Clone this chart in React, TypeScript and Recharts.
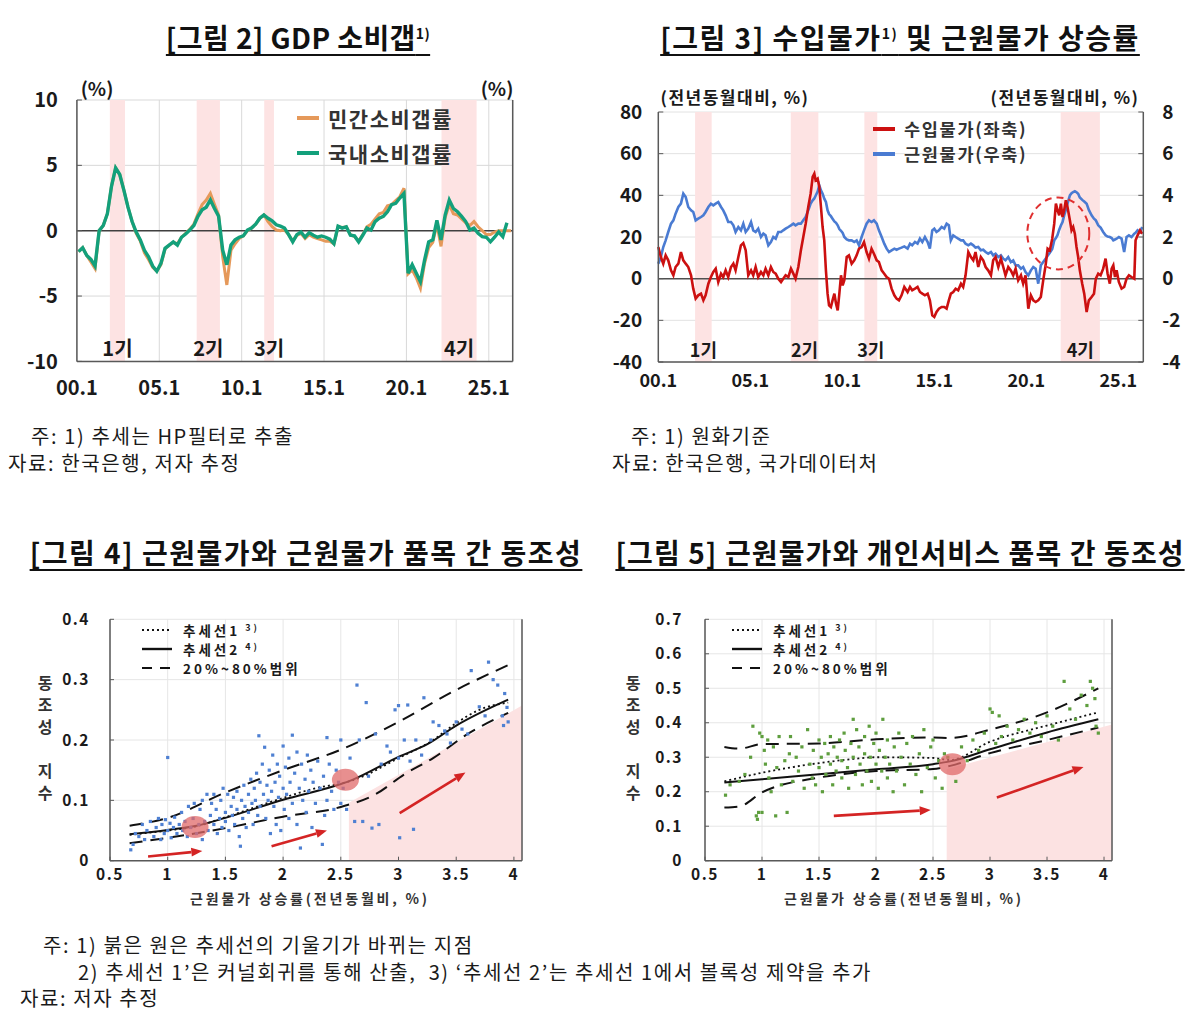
// 소비갭·물가 상승률·동조성 4개 패널
import {
  LineChart,
  ComposedChart,
  Line,
  Scatter,
  XAxis,
  YAxis,
  CartesianGrid,
  ReferenceArea,
  ReferenceLine,
  ReferenceDot,
} from "recharts";

const FONT = '"Noto Sans CJK KR", "Noto Sans", sans-serif';
const INK = "#1a1a1a";
const AXIS = "#595959";

// [그림 2] 분기별 소비갭률 (2000.1분기~)
const privateGap = [
  -1.6, -1.3, -1.9, -2.4, -2.9, 0.0, 0.4, 1.3, 3.4, 4.8,
  4.3, 3.1, 1.8, 0.7, -0.2, -0.8, -1.7, -2.2, -2.8, -3.1,
  -2.6, -1.4, -1.1, -0.9, -1.0, -0.5, -0.2, 0.1, 0.5, 1.3,
  2.0, 2.35, 2.85, 2.0, 1.2, -2.0, -4.15, -1.5, -1.0, -0.6,
  -0.4, 0.0, 0.2, 0.5, 0.95, 1.2, 0.7, 0.3, 0.05, 0.0,
  0.05, -0.3, -0.8, -0.35, -0.2, -0.6, -0.3, -0.5, -0.6, -0.7,
  -0.8, -0.8, -1.0, 0.3, 0.25, 0.3, -0.3, -0.45, -0.8, -0.3,
  0.3, 0.5, 0.9, 1.3, 1.4, 1.9, 2.0, 2.3, 2.6, 3.25,
  -3.3, -3.0, -3.6, -4.4, -2.5, -1.3, -0.9, 0.5, -1.2, 1.0,
  2.0, 1.3, 1.2, 0.9, 0.6, 0.4, 0.7, 0.3, 0.0, -0.3,
  -0.3, -0.1, 0.0, 0.0, 0.0, 0.0,
];
const domesticGap = [
  -1.6, -1.3, -1.9, -2.2, -2.7, 0.0, 0.4, 1.3, 3.4, 4.8,
  4.3, 3.1, 1.8, 0.7, -0.1, -0.7, -1.5, -2.0, -2.7, -3.1,
  -2.5, -1.35, -1.1, -0.85, -1.1, -0.5, -0.25, 0.05, 0.4, 1.1,
  1.6, 1.8, 2.35, 1.7, 1.1, -1.5, -2.6, -1.1, -0.7, -0.5,
  -0.4, 0.05, 0.2, 0.5, 0.95, 1.2, 0.95, 0.75, 0.45, 0.35,
  0.2, -0.3, -0.85, -0.3, -0.1, -0.5, -0.15, -0.35, -0.5, -0.4,
  -0.5, -0.65, -1.0, 0.35, 0.2, 0.3, -0.35, -0.4, -0.85, -0.35,
  0.2, 0.05, 0.7, 0.95, 1.1, 1.45, 2.0, 2.1, 2.5, 2.85,
  -3.25, -2.6, -3.25, -3.9, -2.25, -0.85, -0.7, 0.8, -0.7, 1.2,
  2.35, 1.7, 1.45, 1.1, 0.7, 0.05, 0.2, -0.2, -0.45, -0.5,
  -0.85, -0.5, -0.1, -0.45, 0.6,
];
const gapBands = [
  { label: "1기", from: 2002.0, to: 2002.92 },
  { label: "2기", from: 2007.27, to: 2008.68 },
  { label: "3기", from: 2011.37, to: 2011.96 },
  { label: "4기", from: 2022.13, to: 2024.26 },
];

// [그림 3] 수입물가(좌축, %) · 근원물가(우축, %) 전년동월대비
const priceDates = [
  2000.0, 2000.14, 2000.27, 2000.4, 2000.54, 2000.69, 2000.82, 2000.94, 2001.09, 2001.23,
  2001.36, 2001.49, 2001.63, 2001.78, 2001.9, 2002.03, 2002.17, 2002.32, 2002.45, 2002.57,
  2002.72, 2002.86, 2002.99, 2003.12, 2003.26, 2003.41, 2003.53, 2003.66, 2003.8, 2003.95,
  2004.08, 2004.2, 2004.35, 2004.49, 2004.62, 2004.75, 2004.89, 2005.04, 2005.16, 2005.29,
  2005.43, 2005.58, 2005.71, 2005.83, 2005.98, 2006.12, 2006.25, 2006.38, 2006.52, 2006.67,
  2006.79, 2006.92, 2007.07, 2007.21, 2007.34, 2007.46, 2007.61, 2007.75, 2007.88, 2008.01,
  2008.15, 2008.28, 2008.39, 2008.48, 2008.55, 2008.66, 2008.75, 2008.84, 2008.93, 2009.02,
  2009.11, 2009.2, 2009.28, 2009.38, 2009.47, 2009.57, 2009.66, 2009.75, 2009.84, 2009.93,
  2010.02, 2010.11, 2010.24, 2010.36, 2010.51, 2010.65, 2010.78, 2010.91, 2011.05, 2011.18,
  2011.32, 2011.45, 2011.59, 2011.72, 2011.87, 2011.99, 2012.14, 2012.28, 2012.41, 2012.54,
  2012.68, 2012.83, 2012.95, 2013.08, 2013.22, 2013.37,
  2013.55, 2013.68, 2013.8, 2013.95, 2014.09, 2014.22, 2014.35, 2014.49, 2014.64, 2014.76,
  2014.89, 2015.0, 2015.12, 2015.25, 2015.4, 2015.54, 2015.67, 2015.79, 2015.9, 2016.03,
  2016.16, 2016.3, 2016.45, 2016.57, 2016.7, 2016.85, 2016.99, 2017.12, 2017.24, 2017.39,
  2017.53, 2017.66, 2017.79, 2017.93, 2018.08, 2018.2, 2018.33, 2018.48, 2018.62, 2018.75,
  2018.87, 2019.02, 2019.16, 2019.29, 2019.42, 2019.56, 2019.71, 2019.83, 2019.96, 2020.11,
  2020.25, 2020.38, 2020.51, 2020.65, 2020.79, 2020.92, 2021.05, 2021.16, 2021.28, 2021.41,
  2021.52, 2021.61, 2021.7, 2021.79, 2021.88, 2021.97, 2022.06, 2022.15, 2022.24, 2022.37,
  2022.46, 2022.55, 2022.64, 2022.73, 2022.82, 2022.91, 2023.04, 2023.15, 2023.28, 2023.4,
  2023.55, 2023.68, 2023.78, 2023.91, 2024.04, 2024.18, 2024.31, 2024.42, 2024.54, 2024.64,
  2024.73, 2024.82, 2024.91, 2025.03, 2025.18, 2025.32, 2025.45, 2025.58, 2025.72, 2025.87,
  2025.94, 2026.05, 2026.18, 2026.3,
];
const importPrice = [
  15.2, 10.4, 7.2, 11.2, 8.8, 4, 1.6, 5.6, 7.2, 12.8,
  8.8, 7.2, 5.6, 1.6, -4.8, -9.6, -8, -7.2, -10.4, -8,
  -2.4, 0.8, 3.2, 4.8, -1.6, 2.4, 0.8, 4, 0.8, 5.6,
  7.2, 4, 10.4, 16, 17.1, 13.6, 1.6, 4, 1.6, 5.6,
  0.8, 3.2, 1.6, 4.8, 1.6, 5.6, 3.2, 2.4, 0, -1.6,
  0, 1.6, 0.8, 4.8, 2.4, 0, 5.6, 13.6, 20, 26.4,
  34.4, 40.8, 48.8, 50.4, 47.2, 48, 44, 34.4, 24.8, 18.4,
  4, -7.2, -12.8, -13.6, -10.4, -7.2, -12, -15.2, -7.2, 1.6,
  -3.2, -0.8, 10.4, 11.2, 7.2, 8.8, 11.2, 14.4, 15.2, 17.6,
  12.8, 9.6, 14.4, 12, 8.8, 8, 4, 2.4, 0.8, 0,
  -4.8, -8, -9.6, -10.4, -8, -4,
  -6.4, -4, -5.6, -4.8, -4, -6.4, -7.2, -8, -7.2, -10.4,
  -17.6, -18.4, -16, -14.4, -13.6, -13.6, -14.4, -10.4, -7.2, -6.4,
  -4.8, -5.6, -2.4, -4, 1.6, 12.8, 10.4, 8.8, 12.8, 5.6,
  10.4, 8.8, 5.6, 4, 1.6, 8.8, 10.4, 5.6, 9.6, 5.6,
  1.6, 5.6, 4, 1.6, 4.8, -0.8, 1.6, -2.4, 1.6, -14.4,
  -8, -10.4, -11.2, -10.4, -8.8, -0.8, 6.4, 14.4, 13.6, 19.2,
  26.4, 36, 32.8, 30.4, 36, 29.6, 32.8, 37.6, 34.4, 28,
  23.2, 24.8, 21.6, 15.2, 10.4, 4, -2.4, -7.2, -16, -10.4,
  -8.8, -7.2, 0, 2.4, 1.6, 4.8, 9.6, 2.4, -2.4, 4.8,
  6.4, 0.8, 4, -1.6, -4.8, -4, 0, 1.6, 0.8, 0,
  18.4, 20.8, 23.2, 21.6,
];
const corePrice = [
  0.72, 1.04, 1.52, 1.84, 2.24, 2.64, 2.8, 3.12, 3.44, 3.6,
  4.08, 3.92, 3.44, 3.28, 3.2, 2.8, 2.88, 2.96, 3.04, 3.2,
  3.44, 3.6, 3.52, 3.6, 3.68, 3.44, 3.28, 3.04, 2.72, 2.72,
  2.56, 2.24, 2.48, 2.32, 2.64, 2.24, 2.4, 2.72, 2.32, 2.24,
  2.4, 2.0, 2.16, 2.08, 1.6, 1.76, 2.0, 1.92, 2.24, 2.24,
  2.32, 2.4, 2.48, 2.56, 2.64, 2.56, 2.64, 2.64, 2.8, 2.96,
  3.28, 3.6, 3.76, 3.85, 3.98, 4.18, 4.48, 4.24, 4.08, 3.84,
  3.68, 3.28, 3.1, 3.0, 2.88, 2.75, 2.68, 2.56, 2.38, 2.3,
  2.2, 2.0, 1.88, 1.84, 1.84, 1.76, 1.84, 1.6, 2.0, 2.32,
  2.64, 2.8, 2.72, 2.8, 2.64, 2.32, 2.0, 1.68, 1.44, 1.28,
  1.36, 1.44, 1.39, 1.44, 1.49, 1.55,
  1.44, 1.68, 1.6, 1.76, 1.68, 1.92, 1.76, 2.0, 1.76, 1.44,
  2.32, 2.4, 2.24, 2.32, 2.48, 2.4, 2.64, 2.56, 1.84, 2.08,
  2.0, 1.92, 1.84, 1.84, 1.68, 1.6, 1.68, 1.6, 1.49, 1.52,
  1.36, 1.39, 1.28, 1.2, 1.28, 1.12, 1.2, 1.04, 1.12, 0.96,
  0.88, 1.04, 0.8, 0.88, 0.64, 0.64, 0.48, 0.56, 0.32, 0.16,
  0.4, 0.56, 0.48, -0.24, 0.64, 0.8, 0.96, 1.1, 1.25, 1.42,
  1.84, 1.95, 2.1, 2.35, 2.55, 2.72, 3.04, 3.3, 3.6, 4.0,
  4.1, 4.16, 4.2, 4.15, 4.08, 3.9, 3.78, 3.7, 3.6, 3.3,
  3.04, 2.88, 2.8, 2.56, 2.45, 2.24, 2.08, 2.02, 2.0, 1.95,
  1.84, 1.88, 1.92, 2.0, 1.92, 1.28, 2.0, 2.08, 2.0, 2.16,
  2.2, 2.32, 2.24, 2.48,
];
const priceBands = [
  { label: "1기", from: 2002.0, to: 2002.9 },
  { label: "2기", from: 2007.2, to: 2008.7 },
  { label: "3기", from: 2011.2, to: 2011.9 },
  { label: "4기", from: 2021.87, to: 2024.0 },
];
const yearTicks = [2000, 2005, 2010, 2015, 2020, 2025];

// [그림 4] 근원물가 품목 동조성 (x: 근원물가 상승률, y: 동조성 지수)
const corePoints = [
  [0.68, 0.018], [0.7, 0.027], [0.72, 0.045], [0.75, 0.04], [0.78, 0.06], [0.8, 0.035], [0.82, 0.05], [0.85, 0.065], [0.88, 0.04], [0.9, 0.055],
  [0.92, 0.07], [0.94, 0.035], [0.95, 0.06], [0.97, 0.045], [0.98, 0.068], [1.0, 0.171], [1.0, 0.05], [1.02, 0.062], [1.03, 0.038], [1.05, 0.055], [1.06, 0.072], [1.08, 0.045], [1.1, 0.06],
  [1.12, 0.08], [1.13, 0.05], [1.15, 0.065], [1.17, 0.04], [1.18, 0.09], [1.2, 0.055], [1.22, 0.07], [1.23, 0.095], [1.25, 0.045], [1.27, 0.06], [1.28, 0.085], [1.3, 0.1], [1.3, 0.035],
  [1.32, 0.065], [1.34, 0.11], [1.35, 0.05], [1.37, 0.075], [1.38, 0.095], [1.4, 0.06], [1.4, 0.11], [1.42, 0.085], [1.43, 0.045], [1.45, 0.07], [1.46, 0.1], [1.47, 0.055], [1.48, 0.12], [1.5, 0.08], [1.5, 0.065],
  [1.52, 0.11], [1.53, 0.05], [1.55, 0.09], [1.56, 0.075], [1.57, 0.105], [1.58, 0.06], [1.6, 0.115], [1.6, 0.085], [1.62, 0.04], [1.63, 0.024], [1.64, 0.1], [1.65, 0.07], [1.66, 0.125], [1.67, 0.09], [1.68, 0.055], [1.7, 0.11], [1.7, 0.08],
  [1.72, 0.135], [1.73, 0.095], [1.74, 0.06], [1.75, 0.12], [1.76, 0.1], [1.77, 0.145], [1.78, 0.075], [1.79, 0.207], [1.8, 0.13], [1.8, 0.09], [1.82, 0.16], [1.83, 0.11], [1.84, 0.188], [1.85, 0.07], [1.86, 0.125], [1.87, 0.1], [1.88, 0.15], [1.89, 0.045], [1.9, 0.115],
  [1.91, 0.175], [1.92, 0.09], [1.93, 0.13], [1.94, 0.06], [1.95, 0.16], [1.96, 0.105], [1.97, 0.14], [1.98, 0.05], [2.0, 0.19], [2.0, 0.12], [2.01, 0.085], [2.02, 0.155], [2.03, 0.11], [2.05, 0.17], [2.05, 0.07], [2.06, 0.13], [2.08, 0.208], [2.08, 0.095], [2.1, 0.145],
  [2.12, 0.18], [2.12, 0.06], [2.14, 0.12], [2.15, 0.021], [2.16, 0.16], [2.17, 0.1], [2.19, 0.135], [2.2, 0.08], [2.21, 0.175], [2.22, 0.115], [2.24, 0.15], [2.25, 0.055], [2.26, 0.13], [2.28, 0.095], [2.3, 0.165],
  [2.32, 0.12], [2.34, 0.027], [2.35, 0.14], [2.36, 0.075], [2.38, 0.204], [2.38, 0.1], [2.4, 0.16], [2.42, 0.115], [2.44, 0.085], [2.46, 0.15], [2.48, 0.13], [2.5, 0.2], [2.5, 0.095], [2.52, 0.12], [2.55, 0.085], [2.58, 0.17],
  [2.62, 0.065], [2.64, 0.291], [2.66, 0.2], [2.69, 0.065], [2.72, 0.262], [2.74, 0.14], [2.77, 0.054], [2.8, 0.21], [2.83, 0.06], [2.85, 0.16], [2.9, 0.19], [2.93, 0.18], [2.97, 0.25], [3.0, 0.257], [3.01, 0.038], [3.0, 0.17],
  [3.05, 0.2], [3.08, 0.258], [3.1, 0.165], [3.13, 0.052], [3.15, 0.2], [3.2, 0.175], [3.22, 0.27], [3.28, 0.2], [3.3, 0.23], [3.35, 0.224], [3.4, 0.215], [3.42, 0.21], [3.45, 0.195], [3.5, 0.23],
  [3.55, 0.218], [3.6, 0.21], [3.63, 0.315], [3.7, 0.255], [3.75, 0.24], [3.78, 0.329], [3.82, 0.3], [3.86, 0.291], [3.9, 0.24], [3.91, 0.224], [3.92, 0.277], [3.94, 0.254], [3.95, 0.23],
];
const coreTrend1 = [[0.67, 0.043], [1.0, 0.05], [1.25, 0.057], [1.5, 0.072], [2.0, 0.104], [2.3, 0.121], [2.5, 0.128], [2.6, 0.133], [3.0, 0.17], [3.3, 0.2], [3.5, 0.228], [3.7, 0.25], [3.95, 0.262]];
const coreTrend2 = [[0.67, 0.044], [1.0, 0.051], [1.25, 0.058], [1.5, 0.071], [2.0, 0.101], [2.5, 0.127], [2.6, 0.134], [3.0, 0.172], [3.25, 0.193], [3.5, 0.224], [3.95, 0.267]];
const coreHigh = [[0.67, 0.058], [1.0, 0.071], [1.5, 0.113], [2.0, 0.15], [2.5, 0.184], [3.0, 0.23], [3.5, 0.283], [3.95, 0.324]];
const coreLow = [[0.67, 0.029], [1.0, 0.038], [1.5, 0.054], [2.0, 0.073], [2.5, 0.089], [2.8, 0.11], [3.05, 0.143], [3.3, 0.17], [3.6, 0.21], [3.95, 0.245]];
const coreShade = { from: 2.57, to: 4.07, low: 0.096, high: 0.257 };
const coreArrows = [[0.83, 0.007, 1.3, 0.016], [1.9, 0.024, 2.38, 0.05], [3.01, 0.079, 3.58, 0.146]];
const coreKinks = [[1.237, 0.056], [2.54, 0.134]];

// [그림 5] 개인서비스 품목 동조성
const servicePoints = [
  [0.68, 0.19], [0.72, 0.22], [0.8, 0.23], [0.85, 0.25], [0.9, 0.3], [0.92, 0.39], [0.95, 0.13], [0.96, 0.12], [0.97, 0.14], [0.98, 0.37],
  [1.0, 0.36], [1.0, 0.14], [1.02, 0.32], [1.03, 0.28], [1.05, 0.35], [1.06, 0.24], [1.08, 0.2], [1.1, 0.33], [1.12, 0.13], [1.13, 0.27],
  [1.15, 0.36], [1.17, 0.22], [1.2, 0.29], [1.22, 0.14], [1.24, 0.31], [1.25, 0.36], [1.27, 0.23], [1.3, 0.3], [1.32, 0.26], [1.35, 0.33],
  [1.37, 0.21], [1.4, 0.38], [1.42, 0.28], [1.44, 0.24], [1.45, 0.32], [1.47, 0.22], [1.5, 0.35], [1.5, 0.27], [1.52, 0.3], [1.53, 0.2],
  [1.55, 0.34], [1.56, 0.25], [1.58, 0.31], [1.6, 0.28], [1.6, 0.36], [1.62, 0.22], [1.63, 0.33], [1.65, 0.26], [1.66, 0.3], [1.68, 0.35],
  [1.7, 0.24], [1.7, 0.29], [1.72, 0.37], [1.73, 0.32], [1.75, 0.27], [1.76, 0.21], [1.78, 0.34], [1.8, 0.41], [1.8, 0.3], [1.82, 0.25],
  [1.83, 0.38], [1.85, 0.33], [1.86, 0.28], [1.88, 0.22], [1.9, 0.36], [1.9, 0.31], [1.92, 0.26], [1.94, 0.39], [1.95, 0.3], [1.96, 0.23],
  [1.98, 0.34], [2.0, 0.28], [2.0, 0.37], [2.02, 0.21], [2.03, 0.32], [2.05, 0.26], [2.06, 0.41], [2.08, 0.3], [2.1, 0.24], [2.1, 0.35],
  [2.12, 0.28], [2.15, 0.2], [2.16, 0.33], [2.18, 0.26], [2.2, 0.37], [2.22, 0.3], [2.25, 0.22], [2.27, 0.34], [2.3, 0.28], [2.32, 0.36],
  [2.35, 0.25], [2.38, 0.31], [2.4, 0.2], [2.42, 0.38], [2.45, 0.27], [2.48, 0.33], [2.5, 0.35], [2.52, 0.24], [2.55, 0.29], [2.58, 0.21],
  [2.6, 0.31], [2.63, 0.3], [2.7, 0.23], [2.75, 0.33], [2.8, 0.29], [2.85, 0.35], [2.9, 0.32], [2.95, 0.37], [3.0, 0.44], [3.02, 0.43],
  [3.05, 0.34], [3.08, 0.42], [3.1, 0.36], [3.15, 0.39], [3.2, 0.35], [3.25, 0.38], [3.3, 0.41], [3.35, 0.37], [3.4, 0.4], [3.45, 0.36],
  [3.5, 0.42], [3.55, 0.39], [3.6, 0.35], [3.65, 0.52], [3.7, 0.44], [3.75, 0.41], [3.8, 0.48], [3.85, 0.45], [3.88, 0.52], [3.9, 0.5],
  [3.92, 0.47], [3.93, 0.39], [3.95, 0.37],
];
const serviceTrend1 = [[0.67, 0.23], [1.0, 0.255], [1.5, 0.283], [1.8, 0.295], [2.0, 0.3], [2.5, 0.298], [2.65, 0.292], [3.0, 0.345], [3.5, 0.392], [3.95, 0.43]];
const serviceTrend2 = [[0.67, 0.227], [1.0, 0.236], [1.5, 0.251], [2.0, 0.265], [2.5, 0.28], [2.65, 0.288], [3.0, 0.323], [3.5, 0.372], [3.95, 0.41]];
const serviceHigh = [[0.67, 0.33], [0.8, 0.325], [1.0, 0.338], [1.5, 0.34], [2.0, 0.352], [2.5, 0.357], [2.65, 0.356], [3.0, 0.38], [3.5, 0.43], [3.95, 0.5]];
const serviceLow = [[0.67, 0.154], [0.8, 0.157], [1.0, 0.198], [1.5, 0.241], [2.0, 0.26], [2.5, 0.266], [2.65, 0.275], [3.0, 0.312], [3.5, 0.35], [3.95, 0.386]];
const serviceShade = { from: 2.62, to: 4.07, low: 0.265, high: 0.395 };
const serviceArrows = [[1.63, 0.13, 2.48, 0.147], [3.06, 0.183, 3.82, 0.272]];
const serviceKinks = [[2.67, 0.28]];

const inflationTicks = [0.5, 1, 1.5, 2, 2.5, 3, 3.5, 4];

const gapData = privateGap.map((v, i) => ({ x: 2000.1 + i * 0.25, private: v, domestic: domesticGap[i] }));
const priceData = priceDates.map((x, i) => ({ x, importPrice: importPrice[i], corePrice: corePrice[i] }));
const xy = (rows: number[][]) => rows.map(([x, y]) => ({ x, y }));
const yearLabel = (v: number) => `${String(v - 2000).padStart(2, "0")}.1`;

function Txt({ x, y, size, weight = 400, spacing = 0, center = false, color = INK, children }: any) {
  return (
    <div
      style={{
        position: "absolute",
        left: x,
        top: y - size * 0.55,
        fontSize: size,
        fontWeight: weight,
        lineHeight: 1.1,
        letterSpacing: spacing,
        whiteSpace: "pre",
        color,
        transform: center ? "translateX(-50%)" : undefined,
      }}
    >
      {children}
    </div>
  );
}

function Title({ cx, y, spacing = 1.3, children }: any) {
  return (
    <div
      style={{
        position: "absolute",
        left: cx,
        top: y - 17,
        transform: "translateX(-50%)",
        fontSize: 28,
        fontWeight: 700,
        lineHeight: 1.2,
        letterSpacing: spacing,
        whiteSpace: "pre",
        color: "#111",
        textDecoration: "underline",
        textDecorationThickness: "2px",
        textUnderlineOffset: "5px",
      }}
    >
      {children}
    </div>
  );
}

const sup = (s: string, size = 14) => (
  <span style={{ fontSize: size, verticalAlign: "super", lineHeight: 0 }}>{s}</span>
);

function GapChart() {
  const tick = { fill: INK, fontSize: 20, fontWeight: 700 };
  return (
    <LineChart width={600} height={330} data={gapData} margin={{ top: 20, right: 17.3, bottom: 8.6, left: 16.9 }}>
      <CartesianGrid stroke="#d9d9d9" />
      {gapBands.map((b) => (
        <ReferenceArea
          key={b.label}
          x1={b.from}
          x2={b.to}
          fill="#FDE3E3"
          fillOpacity={1}
          stroke="none"
          label={{ value: b.label, position: "insideBottom", offset: 5, fill: INK, fontSize: 20, fontWeight: 700 }}
        />
      ))}
      <XAxis
        dataKey="x"
        type="number"
        domain={[2000, 2026.45]}
        ticks={yearTicks}
        interval={0}
        tickFormatter={yearLabel}
        height={40}
        tickSize={0}
        tickMargin={19}
        axisLine={{ stroke: AXIS, strokeWidth: 1.5 }}
        tick={tick}
      />
      <YAxis
        domain={[-10, 10]}
        ticks={[-10, -5, 0, 5, 10]}
        interval={0}
        width={60}
        tickSize={-5}
        tickMargin={24}
        axisLine={{ stroke: AXIS, strokeWidth: 1.5 }}
        tickLine={{ stroke: AXIS }}
        tick={tick}
      />
      <YAxis
        yAxisId="r"
        orientation="right"
        domain={[-10, 10]}
        ticks={[-10, -5, 0, 5, 10]}
        interval={0}
        width={70}
        tickSize={-5}
        tickMargin={27}
        axisLine={{ stroke: AXIS, strokeWidth: 1.5 }}
        tickLine={{ stroke: AXIS }}
        tick={{ ...tick, textAnchor: "start" }}
      />
      <ReferenceLine y={0} stroke="#404040" strokeWidth={1.5} />
      <Line dataKey="private" stroke="#E5995A" strokeWidth={3} dot={false} isAnimationActive={false} />
      <Line dataKey="domestic" stroke="#13A07B" strokeWidth={3.4} dot={false} isAnimationActive={false} />
    </LineChart>
  );
}

const ellipseMark = (p: any) => (
  <ellipse cx={p.cx} cy={p.cy} rx={31} ry={36} fill="none" stroke="#E03030" strokeWidth={2} strokeDasharray="7 5" />
);

function PriceChart() {
  const tick = { fill: INK, fontSize: 19, fontWeight: 700 };
  return (
    <LineChart width={600} height={330} data={priceData} margin={{ top: 32, right: 11.7, bottom: 13, left: 13.3 }}>
      <CartesianGrid vertical={false} stroke="#e2e2e2" />
      {priceBands.map((b) => (
        <ReferenceArea
          key={b.label}
          x1={b.from}
          x2={b.to}
          fill="#FDE3E3"
          fillOpacity={1}
          stroke="none"
          label={{ value: b.label, position: "insideBottom", offset: 5, fill: INK, fontSize: 18, fontWeight: 700 }}
        />
      ))}
      <XAxis
        dataKey="x"
        type="number"
        domain={[2000, 2026.36]}
        ticks={yearTicks}
        interval={0}
        tickFormatter={yearLabel}
        height={35}
        tickSize={0}
        tickMargin={12}
        axisLine={{ stroke: AXIS, strokeWidth: 1.5 }}
        tick={{ ...tick, fontSize: 18 }}
      />
      <YAxis
        domain={[-40, 80]}
        ticks={[-40, -20, 0, 20, 40, 60, 80]}
        interval={0}
        width={45}
        tickSize={-5}
        tickMargin={21}
        axisLine={{ stroke: AXIS, strokeWidth: 1.5 }}
        tickLine={{ stroke: AXIS }}
        tick={tick}
      />
      <YAxis
        yAxisId="r"
        orientation="right"
        domain={[-4, 8]}
        ticks={[-4, -2, 0, 2, 4, 6, 8]}
        interval={0}
        width={45}
        tickSize={-5}
        tickMargin={24}
        axisLine={{ stroke: AXIS, strokeWidth: 1.5 }}
        tickLine={{ stroke: AXIS }}
        tick={tick}
      />
      <ReferenceLine y={0} stroke="#505050" strokeWidth={1.5} />
      <Line yAxisId="r" dataKey="corePrice" stroke="#4A7BD2" strokeWidth={2.6} dot={false} isAnimationActive={false} />
      <Line dataKey="importPrice" stroke="#CC1010" strokeWidth={2.6} dot={false} isAnimationActive={false} />
      <ReferenceDot x={2021.74} y={21.7} r={30} shape={ellipseMark} />
    </LineChart>
  );
}

const arrowShape = (p: any) => {
  const { x1, y1, x2, y2 } = p;
  const a = Math.atan2(y2 - y1, x2 - x1);
  const bx = x2 - 11 * Math.cos(a);
  const by = y2 - 11 * Math.sin(a);
  const w = 4.5;
  const head = `${x2},${y2} ${bx - w * Math.sin(a)},${by + w * Math.cos(a)} ${bx + w * Math.sin(a)},${by - w * Math.cos(a)}`;
  return (
    <g>
      <line x1={x1} y1={y1} x2={bx} y2={by} stroke="#D42424" strokeWidth={2.6} />
      <polygon points={head} fill="#D42424" />
    </g>
  );
};

const kinkMark = (p: any) => <ellipse cx={p.cx} cy={p.cy} rx={13.5} ry={11} fill="#E06A6A" fillOpacity={0.75} />;

function CoMovementChart({ points, color, yMax, yTicks, trend1, trend2, high, low, shade, arrows, kinks, margin, leftGap, rightGap }: any) {
  const tick = { fill: INK, fontSize: 15.5, fontWeight: 700, letterSpacing: 1.5 };
  const ratio = shade.low / shade.high;
  const shadeShape = (p: any) => (
    <polygon
      points={`${p.x},${p.y + p.height} ${p.x},${p.y + p.height * (1 - ratio)} ${p.x + p.width},${p.y} ${p.x + p.width},${p.y + p.height}`}
      fill="#FCE2E2"
    />
  );
  const square = (p: any) => <rect x={p.cx - 1.6} y={p.cy - 1.6} width={3.2} height={3.2} fill={color} />;
  const lineProps = { dataKey: "y", type: "monotone" as const, dot: false, isAnimationActive: false, stroke: "#111" };
  return (
    <ComposedChart width={600} height={310} margin={margin}>
      <CartesianGrid stroke="#e6e6e6" />
      <ReferenceArea x1={shade.from} x2={shade.to} y1={0} y2={shade.high} shape={shadeShape} />
      <XAxis
        dataKey="x"
        type="number"
        domain={[0.5, 4.07]}
        ticks={inflationTicks}
        interval={0}
        height={30}
        tickSize={-4}
        tickMargin={12}
        axisLine={{ stroke: AXIS, strokeWidth: 1.5 }}
        tickLine={{ stroke: AXIS }}
        tick={tick}
      />
      <YAxis
        dataKey="y"
        type="number"
        domain={[0, yMax]}
        ticks={yTicks}
        interval={0}
        width={40}
        tickSize={-4}
        tickMargin={leftGap}
        axisLine={{ stroke: AXIS, strokeWidth: 1.5 }}
        tickLine={{ stroke: AXIS }}
        tick={tick}
      />
      <YAxis
        yAxisId="r"
        orientation="right"
        type="number"
        domain={[0, yMax]}
        ticks={yTicks}
        interval={0}
        width={45}
        tickSize={-4}
        tickMargin={rightGap}
        axisLine={{ stroke: AXIS, strokeWidth: 1.5 }}
        tickLine={{ stroke: AXIS }}
        tick={tick}
      />
      <Scatter data={xy(points)} shape={square} isAnimationActive={false} />
      <Line data={xy(high)} {...lineProps} strokeWidth={2} strokeDasharray="13 8" />
      <Line data={xy(low)} {...lineProps} strokeWidth={2} strokeDasharray="13 8" />
      <Line data={xy(trend1)} {...lineProps} strokeWidth={1.8} strokeDasharray="2 3" />
      <Line data={xy(trend2)} {...lineProps} strokeWidth={2} />
      {arrows.map((a: number[], i: number) => (
        <ReferenceLine
          key={i}
          segment={[{ x: a[0], y: a[1] }, { x: a[2], y: a[3] }]}
          shape={arrowShape}
        />
      ))}
      {kinks.map((k: number[], i: number) => (
        <ReferenceDot key={i} x={k[0]} y={k[1]} r={12} shape={kinkMark} />
      ))}
    </ComposedChart>
  );
}

function TrendLegend({ x, y }: any) {
  const rows = [
    { dash: "2 3", width: 1.8, label: <>추세선1{sup(" 3)", 9)}</> },
    { dash: undefined, width: 2.4, label: <>추세선2{sup(" 4)", 9)}</> },
    { dash: "10 8", width: 2.2, label: <>20%~80%범위</> },
  ];
  const offsets = [0, 19, 38];
  return (
    <>
      {rows.map((r, i) => (
        <div key={i} style={{ position: "absolute", left: x, top: y + offsets[i] - 7, height: 14, display: "flex", alignItems: "center" }}>
          <svg width={32} height={6}>
            <line x1={1} y1={3} x2={31} y2={3} stroke="#111" strokeWidth={r.width} strokeDasharray={r.dash} />
          </svg>
          <span style={{ marginLeft: 10, fontSize: 13.5, lineHeight: "14px", fontWeight: 700, letterSpacing: 3, color: INK }}>{r.label}</span>
        </div>
      ))}
    </>
  );
}

function LegendKey({ x, y, color, label, size, spacing }: any) {
  return (
    <div style={{ position: "absolute", left: x, top: y - 10, height: 20, display: "flex", alignItems: "center" }}>
      <div style={{ width: 22, height: 3.5, background: color }} />
      <span style={{ marginLeft: 9, fontSize: size, lineHeight: "20px", fontWeight: 700, letterSpacing: spacing, color: "#333" }}>{label}</span>
    </div>
  );
}

function AxisWord({ x, y }: any) {
  return (
    <div
      style={{
        position: "absolute",
        left: x - 9,
        top: y,
        width: 18,
        fontSize: 16,
        fontWeight: 700,
        lineHeight: "22px",
        textAlign: "center",
        whiteSpace: "pre",
        color: "#333",
      }}
    >
      {"동\n조\n성\n\n지\n수"}
    </div>
  );
}

export default function App() {
  return (
    <div
      style={{
        position: "absolute",
        left: 0,
        top: 0,
        width: 1200,
        height: 1020,
        background: "#fff",
        fontFamily: FONT,
        color: INK,
        overflow: "hidden",
      }}
    >
      <Title cx={298} y={38} spacing={0.4}>
        [그림 2] GDP 소비갭{sup("1)")}
      </Title>
      <Title cx={900} y={38} spacing={1.5}>
        [그림 3] 수입물가{sup("1)")} 및 근원물가 상승률
      </Title>

      <div style={{ position: "absolute", left: 0, top: 80 }}>
        <GapChart />
      </div>
      <Txt x={97} y={88} size={19} weight={700} center>(%)</Txt>
      <Txt x={497} y={88} size={19} weight={700} center>(%)</Txt>
      <LegendKey x={297} y={118} color="#E5995A" label="민간소비갭률" size={21} spacing={1.5} />
      <LegendKey x={297} y={153} color="#13A07B" label="국내소비갭률" size={21} spacing={1.5} />

      <div style={{ position: "absolute", left: 600, top: 80 }}>
        <PriceChart />
      </div>
      <Txt x={735} y={97} size={17} weight={700} spacing={1.5} center>(전년동월대비, %)</Txt>
      <Txt x={1065} y={97} size={17} weight={700} spacing={1.5} center>(전년동월대비, %)</Txt>
      <LegendKey x={873} y={129} color="#CC1010" label="수입물가(좌축)" size={17.5} spacing={1.7} />
      <LegendKey x={873} y={154} color="#4A7BD2" label="근원물가(우축)" size={17.5} spacing={1.7} />

      <Txt x={31} y={436} size={20} spacing={1.6}>주: 1) 추세는 HP필터로 추출</Txt>
      <Txt x={8} y={463} size={20} spacing={1.6}>자료: 한국은행, 저자 추정</Txt>
      <Txt x={631} y={436} size={20} spacing={1.6}>주: 1) 원화기준</Txt>
      <Txt x={612} y={463} size={20} spacing={1.6}>자료: 한국은행, 국가데이터처</Txt>

      <Title cx={306} y={553} spacing={1.5}>[그림 4] 근원물가와 근원물가 품목 간 동조성</Title>
      <Title cx={900} y={553} spacing={1.1}>[그림 5] 근원물가와 개인서비스 품목 간 동조성</Title>

      <div style={{ position: "absolute", left: 0, top: 600 }}>
        <CoMovementChart
          points={corePoints}
          color="#4F80D2"
          yMax={0.4}
          yTicks={[0, 0.1, 0.2, 0.3, 0.4]}
          trend1={coreTrend1}
          trend2={coreTrend2}
          high={coreHigh}
          low={coreLow}
          shade={coreShade}
          arrows={coreArrows}
          kinks={coreKinks}
          margin={{ top: 19.3, right: 33, bottom: 19.3, left: 70 }}
          leftGap={24}
          rightGap={23}
        />
      </div>
      <TrendLegend x={141} y={630} />
      <AxisWord x={45} y={671} />
      <Txt x={310} y={899} size={14} weight={700} spacing={2.8} color="#333" center>근원물가 상승률(전년동월비, %)</Txt>

      <div style={{ position: "absolute", left: 600, top: 600 }}>
        <CoMovementChart
          points={servicePoints}
          color="#5E9E3E"
          yMax={0.7}
          yTicks={[0, 0.1, 0.2, 0.3, 0.4, 0.5, 0.6, 0.7]}
          trend1={serviceTrend1}
          trend2={serviceTrend2}
          high={serviceHigh}
          low={serviceLow}
          shade={serviceShade}
          arrows={serviceArrows}
          kinks={serviceKinks}
          margin={{ top: 19.3, right: 43, bottom: 19.3, left: 65 }}
          leftGap={26}
          rightGap={30}
        />
      </div>
      <TrendLegend x={731} y={630} />
      <AxisWord x={633} y={671} />
      <Txt x={904} y={899} size={14} weight={700} spacing={2.8} color="#333" center>근원물가 상승률(전년동월비, %)</Txt>

      <Txt x={43} y={945} size={20} spacing={1.6}>주: 1) 붉은 원은 추세선의 기울기가 바뀌는 지점</Txt>
      <Txt x={78} y={972} size={20} spacing={1.6}>2) 추세선 1’은 커널회귀를 통해 산출,  3) ‘추세선 2’는 추세선 1에서 볼록성 제약을 추가</Txt>
      <Txt x={20} y={998} size={20} spacing={1.6}>자료: 저자 추정</Txt>
    </div>
  );
}
